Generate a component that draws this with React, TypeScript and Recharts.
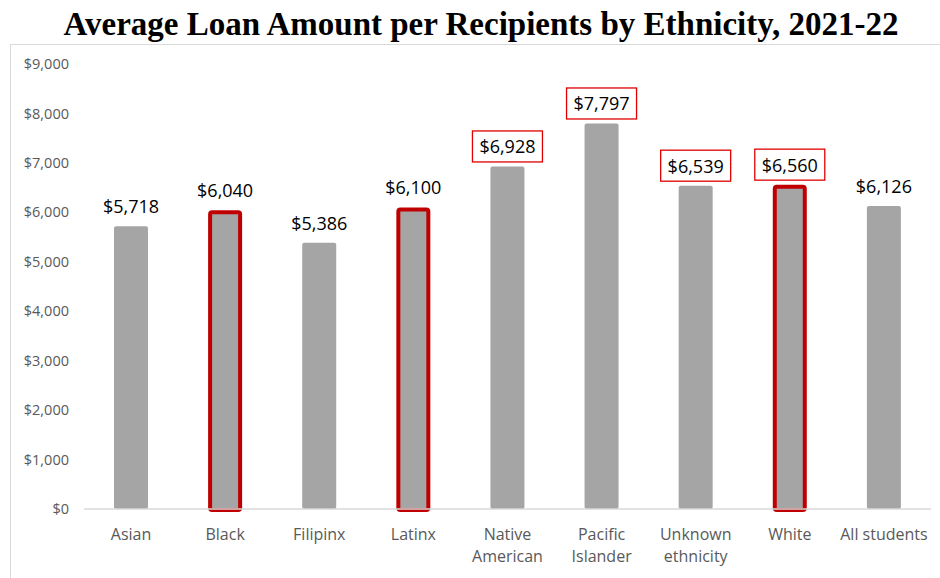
import React from "react";
import { BarChart, Bar, XAxis, YAxis, LabelList } from "recharts";

const categories = [
  "Asian",
  "Black",
  "Filipinx",
  "Latinx",
  "Native American",
  "Pacific Islander",
  "Unknown ethnicity",
  "White",
  "All students",
];
const loanValues = [5718, 6040, 5386, 6100, 6928, 7797, 6539, 6560, 6126];
const tickLines: string[][] = [
  ["Asian"],
  ["Black"],
  ["Filipinx"],
  ["Latinx"],
  ["Native", "American"],
  ["Pacific", "Islander"],
  ["Unknown", "ethnicity"],
  ["White"],
  ["All students"],
];
const highlightedBars = ["Black", "Latinx", "White"];
const boxedLabels = ["Native American", "Pacific Islander", "Unknown ethnicity", "White"];
const yTicks = [0, 1000, 2000, 3000, 4000, 5000, 6000, 7000, 8000, 9000];
const title = "Average Loan Amount per Recipients by Ethnicity, 2021-22";

const data = categories.map((name, i) => ({ name, value: loanValues[i], lines: tickLines[i] }));

const FONT = "'Open Sans', sans-serif";
const fmt = (v: number) => "$" + v.toLocaleString("en-US");

const BarShape = (props: any) => {
  const { x, y, width, height, payload } = props;
  const hl = highlightedBars.includes(payload.name);
  if (!hl) {
    return <rect x={x} y={y} width={width} height={height} rx={2} ry={2} fill="#A5A5A5" />;
  }
  const sw = 4;
  return (
    <rect
      x={x + sw / 2}
      y={y + sw / 2}
      width={width - sw}
      height={height - sw / 2 + 1}
      rx={2}
      ry={2}
      fill="#A5A5A5"
      stroke="#C00000"
      strokeWidth={sw}
    />
  );
};

const LabelContent = (props: any) => {
  const { x, y, width, value } = props;
  const entry = data.find((d) => d.name === value);
  if (!entry) return null;
  const cx = x + width / 2;
  const cy = y - 20;
  const boxed = boxedLabels.includes(entry.name);
  return (
    <g>
      {boxed && (
        <rect x={cx - 35} y={cy - 15.5} width={70} height={31} fill="#fff" stroke="#E00000" strokeWidth={1.3} />
      )}
      <text x={cx} y={cy} textAnchor="middle" dominantBaseline="central" fontFamily={FONT} fontSize={18} fill="#000">
        {fmt(entry.value)}
      </text>
    </g>
  );
};

const XTick = (props: any) => {
  const { x, y, payload } = props;
  const entry = data.find((d) => d.name === payload.value);
  const lines = entry ? entry.lines : [payload.value];
  return (
    <text x={x} y={y} textAnchor="middle" fontFamily={FONT} fontSize={16} fill="#595959">
      {lines.map((l: string, i: number) => (
        <tspan key={i} x={x} dy={i === 0 ? 31 : 22}>
          {l}
        </tspan>
      ))}
    </text>
  );
};

export default function App() {
  return (
    <div style={{ position: "absolute", left: 0, top: 0, width: 940, height: 578, background: "#fff", overflow: "hidden" }}>
      <div
        style={{
          position: "absolute",
          left: 0,
          top: 3,
          width: 962,
          textAlign: "center",
          fontFamily: "'Liberation Serif', 'Times New Roman', serif",
          fontWeight: "bold",
          fontSize: 33,
          lineHeight: "42px",
          color: "#000",
        }}
      >
        {title}
      </div>
      <div
        style={{
          position: "absolute",
          left: 10,
          top: 44,
          width: 940,
          height: 560,
          border: "1px solid #D9D9D9",
          boxSizing: "border-box",
        }}
      />
      <div style={{ position: "absolute", left: 0, top: 0 }}>
        <BarChart width={940} height={578} data={data} margin={{ top: 64, right: 9, bottom: 0, left: 0 }} barSize={34}>
          <XAxis
            dataKey="name"
            height={69}
            interval={0}
            tickLine={false}
            tickSize={0}
            tickMargin={0}
            axisLine={{ stroke: "#D9D9D9", strokeWidth: 1.5 }}
            tick={<XTick />}
          />
          <YAxis
            width={84}
            domain={[0, 9000]}
            ticks={yTicks}
            interval={0}
            axisLine={false}
            tickLine={false}
            tickSize={0}
            tickMargin={15}
            tickFormatter={fmt}
            tick={{ fontFamily: FONT, fontSize: 14.5, fill: "#595959" }}
          />
          <Bar dataKey="value" shape={<BarShape />} isAnimationActive={false}>
            <LabelList dataKey="name" content={<LabelContent />} />
          </Bar>
        </BarChart>
      </div>
    </div>
  );
}
